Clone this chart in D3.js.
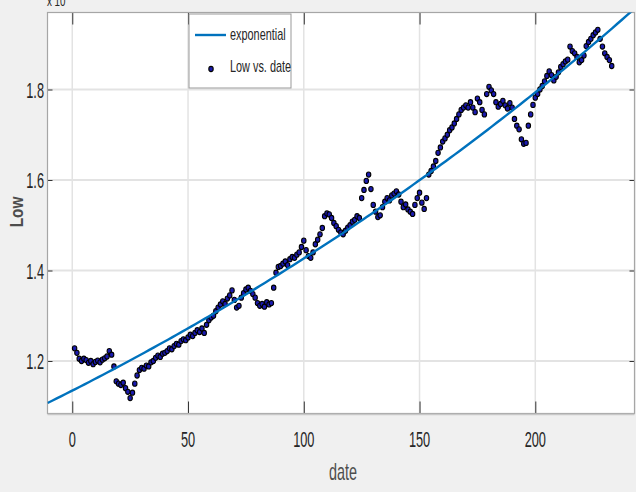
<!DOCTYPE html>
<html>
<head>
<meta charset="utf-8" />
<title>Low vs. date</title>
<script src="https://d3js.org/d3.v7.min.js"></script>
<style>
  html, body { margin: 0; padding: 0; background: #f0f0f0; }
  svg { display: block; }
  text { font-family: "Liberation Sans", Arial, sans-serif; }
</style>
</head>
<body>
<div id="chart"></div>
<script>
// data (values in units of 10^4)
var firstDate = 1;
var lowValues = [
  1.228, 1.218, 1.205, 1.200, 1.205, 1.202, 1.196, 1.200, 1.193, 1.198,
  1.201, 1.197, 1.203, 1.206, 1.210, 1.222, 1.214, 1.188, 1.155, 1.150,
  1.147, 1.152, 1.140, 1.132, 1.118, 1.130, 1.150, 1.168, 1.180, 1.185,
  1.183, 1.190, 1.188, 1.197, 1.200, 1.207, 1.212, 1.209, 1.216, 1.218,
  1.222, 1.228, 1.226, 1.233, 1.238, 1.236, 1.244, 1.248, 1.246, 1.252,
  1.258, 1.255, 1.262, 1.268, 1.264, 1.272, 1.262, 1.280, 1.290, 1.296,
  1.300, 1.310, 1.318, 1.325, 1.332, 1.326, 1.338, 1.345, 1.356, 1.335,
  1.318, 1.322, 1.340, 1.350, 1.358, 1.362, 1.355, 1.348, 1.340, 1.328,
  1.322, 1.326, 1.320, 1.330, 1.325, 1.328, 1.362, 1.395, 1.408, 1.410,
  1.415, 1.420, 1.412, 1.425, 1.430, 1.428, 1.435, 1.440, 1.452, 1.466,
  1.445, 1.432, 1.428, 1.440, 1.458, 1.468, 1.480, 1.494, 1.520, 1.526,
  1.524, 1.516, 1.505, 1.498, 1.490, 1.484, 1.480, 1.488, 1.495, 1.500,
  1.508, 1.512, 1.520, 1.516, 1.560, 1.578, 1.598, 1.612, 1.580, 1.545,
  1.530, 1.518, 1.522, 1.540, 1.552, 1.560, 1.555, 1.566, 1.570, 1.575,
  1.568, 1.552, 1.540, 1.546, 1.535, 1.530, 1.525, 1.545, 1.560, 1.572,
  1.550, 1.536, 1.560, 1.612, 1.620, 1.630, 1.642, 1.660, 1.672, 1.685,
  1.692, 1.700, 1.710, 1.716, 1.725, 1.735, 1.745, 1.755, 1.760, 1.765,
  1.760, 1.772, 1.760, 1.750, 1.780, 1.772, 1.755, 1.745, 1.790, 1.806,
  1.798, 1.790, 1.772, 1.762, 1.768, 1.775, 1.765, 1.758, 1.770, 1.760,
  1.735, 1.720, 1.712, 1.690, 1.680, 1.682, 1.720, 1.745, 1.766, 1.782,
  1.790, 1.800, 1.808, 1.818, 1.830, 1.840, 1.832, 1.820, 1.828, 1.838,
  1.850, 1.856, 1.862, 1.866, 1.895, 1.885, 1.880, 1.872, 1.860, 1.865,
  1.875, 1.896, 1.905, 1.912, 1.920, 1.926, 1.932, 1.912, 1.895, 1.880,
  1.872, 1.865, 1.852
];

// exponential fit  y = a * exp(b * x)
var fitA = 1.1346;
var fitB = 0.00229;

var xTicks = [0, 50, 100, 150, 200];
var yTicks = [1.2, 1.4, 1.6, 1.8];
var xDomain = [-10.7, 242.85];
var yDomain = [1.084, 1.9702];

var width = 636, height = 492;
var plotL = 47.5, plotR = 634.5, plotT = 12.5, plotB = 413.5;

var svg = d3.select("#chart").append("svg").attr("width", width).attr("height", height);

var x = d3.scaleLinear().domain(xDomain).range([plotL, plotR]);
var y = d3.scaleLinear().domain(yDomain).range([plotB, plotT]);

var points = lowValues.map(function (v, i) { return { date: i + firstDate, low: v }; });

// text squashed sideways like the picture
function label(g, str, px, py, size, sx, anchor, rot) {
  return g.append("text")
    .attr("transform", "translate(" + px + "," + py + ")" + (rot ? " rotate(" + rot + ")" : "") + " scale(" + sx + ",1)")
    .attr("font-size", size)
    .attr("text-anchor", anchor)
    .text(str);
}

svg.append("clipPath").attr("id", "plotClip")
  .append("rect").attr("x", plotL).attr("y", plotT).attr("width", plotR - plotL).attr("height", plotB - plotT);

// axes background
svg.append("rect").attr("x", plotL).attr("y", plotT).attr("width", plotR - plotL).attr("height", plotB - plotT)
  .attr("fill", "#ffffff");

// grid
svg.append("g").selectAll("line").data(xTicks).enter().append("line")
  .attr("x1", d => x(d)).attr("x2", d => x(d)).attr("y1", plotT).attr("y2", plotB)
  .attr("stroke", "#e3e3e3").attr("stroke-width", 1.5);
svg.append("g").selectAll("line").data(yTicks).enter().append("line")
  .attr("y1", d => y(d)).attr("y2", d => y(d)).attr("x1", plotL).attr("x2", plotR)
  .attr("stroke", "#e3e3e3").attr("stroke-width", 2);

// axes with inward ticks
var xAxisB = d3.axisTop(x).tickValues(xTicks).tickSize(12).tickFormat("");
var xAxisT = d3.axisBottom(x).tickValues(xTicks).tickSize(12).tickFormat("");
var yAxisL = d3.axisRight(y).tickValues(yTicks).tickSize(5).tickFormat("");
var yAxisR = d3.axisLeft(y).tickValues(yTicks).tickSize(5).tickFormat("");
[[xAxisB, "translate(0," + plotB + ")"], [xAxisT, "translate(0," + plotT + ")"],
 [yAxisL, "translate(" + plotL + ",0)"], [yAxisR, "translate(" + plotR + ",0)"]].forEach(function (p) {
  var g = svg.append("g").attr("transform", p[1]).call(p[0]);
  g.select(".domain").remove();
  g.selectAll(".tick line").attr("stroke", "#333").attr("stroke-width", 1);
});

// box
svg.append("rect").attr("x", plotL).attr("y", plotT).attr("width", plotR - plotL).attr("height", plotB - plotT)
  .attr("fill", "none").attr("stroke", "#a6a6a6").attr("stroke-width", 1.2);
svg.append("line").attr("x1", plotL).attr("x2", plotR).attr("y1", plotB + 1).attr("y2", plotB + 1)
  .attr("stroke", "#c8c8c8").attr("stroke-width", 1.5);

var plot = svg.append("g").attr("clip-path", "url(#plotClip)");

// data points
plot.selectAll("ellipse").data(points).enter().append("ellipse")
  .attr("cx", d => x(d.date)).attr("cy", d => y(d.low))
  .attr("rx", 2.2).attr("ry", 2.6)
  .attr("fill", "#1a1ab0").attr("stroke", "#000").attr("stroke-width", 1.1);

// fitted curve
var curveX = d3.range(xDomain[0], xDomain[1] + 1, 2);
var line = d3.line().x(d => x(d)).y(d => y(fitA * Math.exp(fitB * d)));
plot.append("path").datum(curveX).attr("d", line)
  .attr("fill", "none").attr("stroke", "#0072bd").attr("stroke-width", 2.4);

// tick labels
var tl = svg.append("g").attr("fill", "#262626");
xTicks.forEach(function (t) { label(tl, t, x(t), 447, 22, 0.58, "middle"); });
yTicks.forEach(function (t) { label(tl, d3.format(".1f")(t), 44, y(t) + 8, 22, 0.58, "end"); });

// exponent label, clipped by the window top
label(tl, "x 10", 47, 6, 14, 0.7, "start");

// axis titles
label(svg.append("g").attr("fill", "#4d4d4d"), "date", 343, 480, 24, 0.6, "middle");
label(svg.append("g").attr("fill", "#4d4d4d").attr("font-weight", "bold"), "Low", 23, 212, 18, 0.85, "middle", -90);

// legend
var lg = svg.append("g").attr("fill", "#262626");
lg.append("rect").attr("x", 189).attr("y", 14).attr("width", 102).attr("height", 74)
  .attr("fill", "#ffffff").attr("stroke", "#999").attr("stroke-width", 1);
lg.append("line").attr("x1", 195).attr("x2", 226).attr("y1", 35).attr("y2", 35)
  .attr("stroke", "#0072bd").attr("stroke-width", 2.4);
lg.append("ellipse").attr("cx", 211).attr("cy", 69).attr("rx", 2.2).attr("ry", 2.6)
  .attr("fill", "#1a1ab0").attr("stroke", "#000").attr("stroke-width", 1.1);
label(lg, "exponential", 230, 40, 17, 0.64, "start");
label(lg, "Low vs. date", 230, 72, 17, 0.64, "start");
</script>
</body>
</html>
